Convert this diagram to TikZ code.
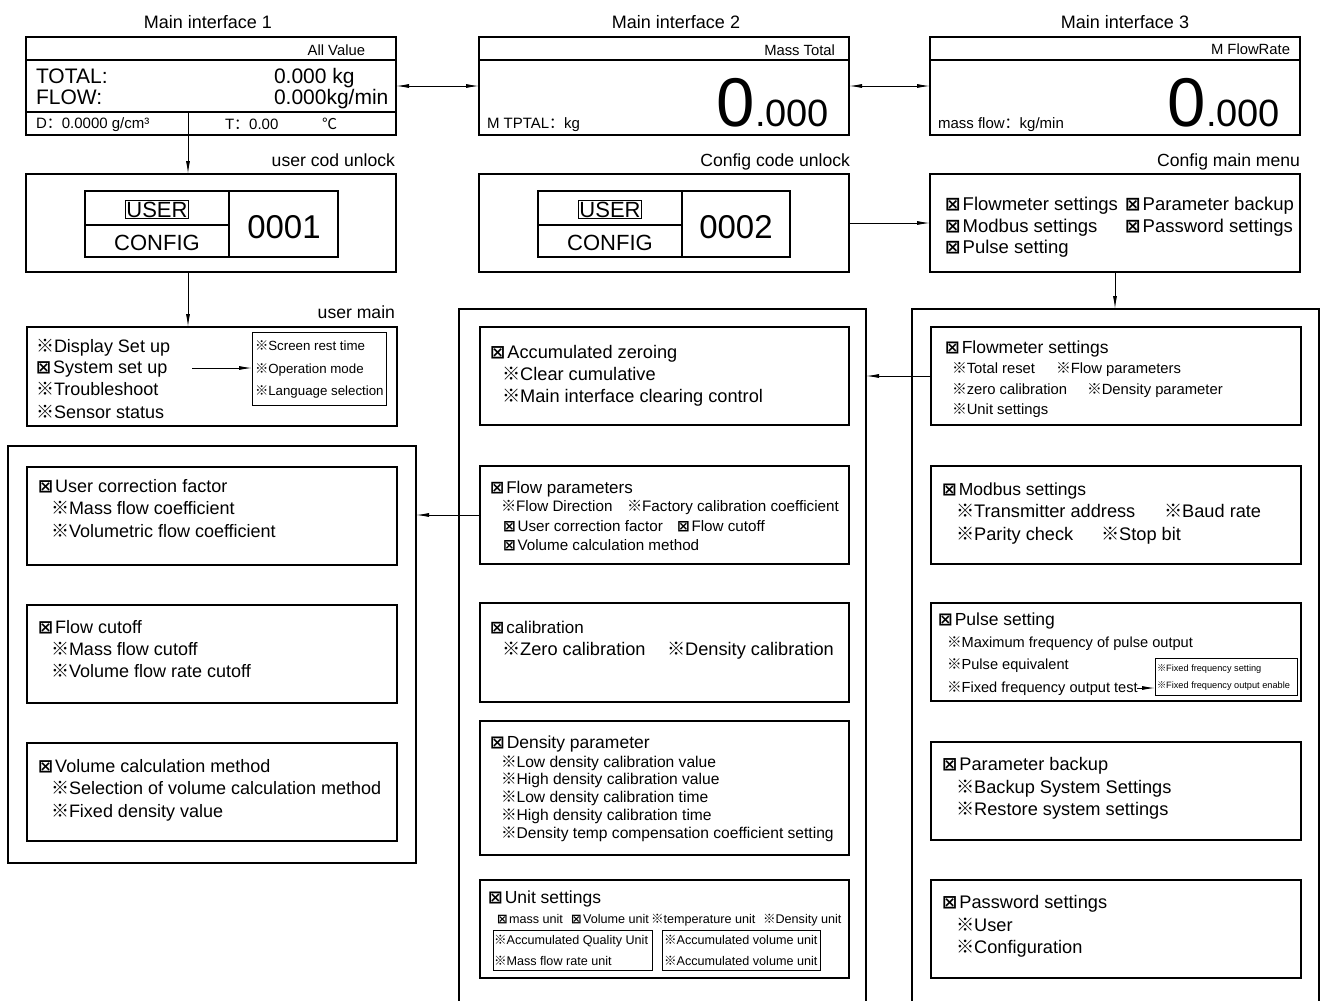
\documentclass[tikz,border=0pt]{standalone}
\usepackage{fontspec}
\setmainfont{Liberation Sans}
\newfontfamily\cjkf{Noto Sans CJK SC}
\newfontfamily\symf{DejaVu Sans}
\usetikzlibrary{arrows.meta}
\newcommand\fs[1]{\fontsize{#1}{#1}\selectfont}
\newcommand\bx{{\symf\bfseries ⊠}\kern0.12em}
\newcommand\rmk{{\cjkf ※}}
\newcommand\fcol{{\cjkf ：}}
\newcommand\degc{{\cjkf ℃}}
\begin{document}
\begin{tikzpicture}[x=1pt,y=-1pt,
  >={Latex[length=13pt,width=4pt]},
  box/.style={draw, line width=1.6pt, anchor=north west, inner sep=0pt, outer sep=0pt},
  sbox/.style={draw, line width=0.9pt, anchor=north west, inner sep=0pt, outer sep=0pt},
  tx/.style={anchor=base west, inner sep=0pt, outer sep=0pt},
  tr/.style={anchor=base east, inner sep=0pt, outer sep=0pt},
  tc/.style={anchor=base, inner sep=0pt, outer sep=0pt},
  conn/.style={line width=0.9pt},
  ln/.style={line width=1.4pt}]
\useasboundingbox (0,0) rectangle (1320,1001);
\clip (0,0) rectangle (1320,1001);
\fill[white] (0,0) rectangle (1320,1001);

% ---------- titles
\node[tc, font=\fs{18}] (ttl1) at (208,28) {Main interface 1};
\node[tc, font=\fs{18}] (ttl2) at (676,28) {Main interface 2};
\node[tc, font=\fs{18}] (ttl3) at (1125,28) {Main interface 3};

% ---------- main interface 1
\node[box, minimum width=370pt, minimum height=98pt] (mi1) at (26,37) {};
\draw[ln] (26,60) -- (396,60);
\draw[ln] (26,112) -- (396,112);
\coordinate (d1) at (188,112);
\node[tr, font=\fs{14.8}] (av) at (365,55) {All Value};
\node[tx, font=\fs{21}] (tot) at (36,83) {TOTAL:};
\node[tx, font=\fs{21}] (flw) at (36,104) {FLOW:};
\node[tx, font=\fs{21}] (totv) at (274,83) {0.000 kg};
\node[tx, font=\fs{21}] (flwv) at (274,104) {0.000kg/min};
\node[tx, font=\fs{15}] (dens) at (36,128) {D\fcol 0.0000 g/cm³};
\node[tx, font=\fs{15}] (temp) at (225,129) {T\fcol 0.00};
\node[tx, font=\fs{15}] (degc) at (322,129) {\degc};

% ---------- main interface 2
\node[box, minimum width=370pt, minimum height=98pt] (mi2) at (479,37) {};
\draw[ln] (479,60) -- (849,60);
\node[tr, font=\fs{14.8}] (mt) at (835,55) {Mass Total};
\node[tx, font=\fs{15}] (mtu) at (487,128) {M TPTAL\fcol kg};
\node[tr] (mtv) at (829,126) {{\fs{69}0}{\fs{38}.000}};

% ---------- main interface 3
\node[box, minimum width=370pt, minimum height=98pt] (mi3) at (930,37) {};
\draw[ln] (930,60) -- (1300,60);
\node[tr, font=\fs{14.8}] (mf) at (1290,54) {M FlowRate};
\node[tx, font=\fs{15}] (mfu) at (938,128) {mass flow\fcol kg/min};
\node[tr] (mfv) at (1280,126) {{\fs{69}0}{\fs{38}.000}};

\draw[conn,<->] (mi1.east) -- (mi2.west);
\draw[conn,<->] (mi2.east) -- (mi3.west);

% ---------- labels
\node[tr, font=\fs{17.6}] (lb1) at (395,166) {user cod unlock};
\node[tr, font=\fs{17.6}] (lb2) at (850,166) {Config code unlock};
\node[tr, font=\fs{17.6}] (lb3) at (1300,166) {Config main menu};

% ---------- unlock 1
\node[box, minimum width=370pt, minimum height=98pt] (uu1) at (26,174) {};
\node[box, line width=1.4pt, minimum width=253pt, minimum height=66pt] (tb1) at (85,191) {};
\draw[ln] (229,191) -- (229,257);
\draw[ln] (85,225) -- (229,225);
\node[draw, line width=0.7pt, inner sep=1.2pt, anchor=base, font=\fs{22}] (us1) at (157,217) {USER};
\node[tc, font=\fs{22}] (cf1) at (157,250) {CONFIG};
\node[tc, font=\fs{33}] (cd1) at (284,238) {0001};

% ---------- unlock 2
\node[box, minimum width=370pt, minimum height=98pt] (uu2) at (479,174) {};
\node[box, line width=1.4pt, minimum width=252pt, minimum height=66pt] (tb2) at (538,191) {};
\draw[ln] (682,191) -- (682,257);
\draw[ln] (538,225) -- (682,225);
\node[draw, line width=0.7pt, inner sep=1.2pt, anchor=base, font=\fs{22}] (us2) at (610,217) {USER};
\node[tc, font=\fs{22}] (cf2) at (610,250) {CONFIG};
\node[tc, font=\fs{33}] (cd2) at (736,238) {0002};

% ---------- config main menu
\node[box, minimum width=370pt, minimum height=98pt] (cmm) at (930,174) {};
\node[tx, font=\fs{18.5}] (cm1) at (945,210) {\bx Flowmeter settings};
\node[tx, font=\fs{18.5}] (cm2) at (1125,210) {\bx Parameter backup};
\node[tx, font=\fs{18.5}] (cm3) at (945,232) {\bx Modbus settings};
\node[tx, font=\fs{18.5}] (cm4) at (1125,232) {\bx Password settings};
\node[tx, font=\fs{18.5}] (cm5) at (945,253) {\bx Pulse setting};

\draw[conn,->] (d1) -- (d1 |- uu1.north);
\draw[conn,->] (uu2.east) -- (cmm.west);

% ---------- user main
\node[tr, font=\fs{17.6}] (lb4) at (395,318) {user main};
\node[box, minimum width=370pt, minimum height=99pt] (um) at (27,327) {};
\node[tx, font=\fs{18}] (um1) at (36,352) {\rmk Display Set up};
\node[tx, font=\fs{18}] (um2) at (36,373) {\bx System set up};
\node[tx, font=\fs{18}] (um3) at (36,395) {\rmk Troubleshoot};
\node[tx, font=\fs{18}] (um4) at (36,418) {\rmk Sensor status};
\node[sbox, minimum width=134pt, minimum height=73pt] (ubx) at (252,332) {};
\node[tx, font=\fs{13.3}] (ub1) at (255,350) {\rmk Screen rest time};
\node[tx, font=\fs{13.3}] (ub2) at (255,373) {\rmk Operation mode};
\node[tx, font=\fs{13.3}] (ub3) at (255,395) {\rmk Language selection};
\coordinate (c1) at (192,368);
\draw[conn,->] (c1) -- (c1 -| ubx.west);
\draw[conn,->] (uu1.south -| d1) -- (um.north -| d1);

% ---------- left panel
\node[box, minimum width=408pt, minimum height=417pt] (lp) at (8,446) {};
\node[box, minimum width=370pt, minimum height=98pt] (lb_a) at (27,467) {};
\node[tx, font=\fs{18}] (la1) at (38,492) {\bx User correction factor};
\node[tx, font=\fs{18}] (la2) at (51,514) {\rmk Mass flow coefficient};
\node[tx, font=\fs{18}] (la3) at (51,537) {\rmk Volumetric flow coefficient};
\node[box, minimum width=370pt, minimum height=98pt] (lb_b) at (27,605) {};
\node[tx, font=\fs{18}] (lb1t) at (38,633) {\bx Flow cutoff};
\node[tx, font=\fs{18}] (lb2t) at (51,655) {\rmk Mass flow cutoff};
\node[tx, font=\fs{18}] (lb3t) at (51,677) {\rmk Volume flow rate cutoff};
\node[box, minimum width=370pt, minimum height=98pt] (lb_c) at (27,743) {};
\node[tx, font=\fs{18}] (lc1) at (38,772) {\bx Volume calculation method};
\node[tx, font=\fs{18}] (lc2) at (51,794) {\rmk Selection of volume calculation method};
\node[tx, font=\fs{18}] (lc3) at (51,817) {\rmk Fixed density value};

% ---------- middle panel
\node[box, minimum width=407pt, minimum height=710pt] (mp) at (459,309) {};
\node[box, minimum width=369pt, minimum height=98pt] (m_a) at (480,327) {};
\node[tx, font=\fs{18.2}] (ma1) at (490,358) {\bx Accumulated zeroing};
\node[tx, font=\fs{18.2}] (ma2) at (502,380) {\rmk Clear cumulative};
\node[tx, font=\fs{18.2}] (ma3) at (502,402) {\rmk Main interface clearing control};
\node[box, minimum width=369pt, minimum height=98pt] (m_b) at (480,466) {};
\node[tx, font=\fs{17}] (mb1) at (490,493) {\bx Flow parameters};
\node[tx, font=\fs{15.2}] (mb2) at (501,511) {\rmk Flow Direction};
\node[tx, font=\fs{15.2}] (mb3) at (627,511) {\rmk Factory calibration coefficient};
\node[tx, font=\fs{15.2}] (mb4) at (503,531) {\bx User correction factor};
\node[tx, font=\fs{15.2}] (mb5) at (677,531) {\bx Flow cutoff};
\node[tx, font=\fs{15.2}] (mb6) at (503,550) {\bx Volume calculation method};
\node[box, minimum width=369pt, minimum height=99pt] (m_c) at (480,603) {};
\node[tx, font=\fs{17}] (mc1) at (490,633) {\bx calibration};
\node[tx, font=\fs{18.2}] (mc2) at (502,655) {\rmk Zero calibration};
\node[tx, font=\fs{18.2}] (mc3) at (667,655) {\rmk Density calibration};
\node[box, minimum width=369pt, minimum height=134pt] (m_d) at (480,721) {};
\node[tx, font=\fs{17.5}] (md1) at (490,748) {\bx Density parameter};
\node[tx, font=\fs{15.6}] (md2) at (501,767) {\rmk Low density calibration value};
\node[tx, font=\fs{15.6}] (md3) at (501,784) {\rmk High density calibration value};
\node[tx, font=\fs{15.6}] (md4) at (501,802) {\rmk Low density calibration time};
\node[tx, font=\fs{15.6}] (md5) at (501,820) {\rmk High density calibration time};
\node[tx, font=\fs{15.6}] (md6) at (501,838) {\rmk Density temp compensation coefficient setting};
\node[box, minimum width=369pt, minimum height=98pt] (m_e) at (480,880) {};
\node[tx, font=\fs{17.5}] (me1) at (488,903) {\bx Unit settings};
\node[tx, font=\fs{12.6}] (me2) at (497,923) {\bx mass unit};
\node[tx, font=\fs{12.6}] (me3) at (571,923) {\bx Volume unit};
\node[tx, font=\fs{12.6}] (me4) at (651,923) {\rmk temperature unit};
\node[tx, font=\fs{12.6}] (me5) at (763,923) {\rmk Density unit};
\node[sbox, minimum width=159pt, minimum height=40pt] (ue1) at (493,930) {};
\node[sbox, minimum width=158pt, minimum height=40pt] (ue2) at (662,930) {};
\node[tx, font=\fs{12.6}] (ue1a) at (494,944) {\rmk Accumulated Quality Unit};
\node[tx, font=\fs{12.6}] (ue1b) at (494,965) {\rmk Mass flow rate unit};
\node[tx, font=\fs{12.6}] (ue2a) at (664,944) {\rmk Accumulated volume unit};
\node[tx, font=\fs{12.6}] (ue2b) at (664,965) {\rmk Accumulated volume unit};

% ---------- right panel
\node[box, minimum width=407pt, minimum height=710pt] (rp) at (912,309) {};
\node[box, minimum width=370pt, minimum height=98pt] (r_a) at (931,327) {};
\node[tx, font=\fs{17.5}] (ra1) at (945,353) {\bx Flowmeter settings};
\node[tx, font=\fs{14.8}] (ra2) at (952,373) {\rmk Total reset};
\node[tx, font=\fs{14.8}] (ra3) at (1056,373) {\rmk Flow parameters};
\node[tx, font=\fs{14.8}] (ra4) at (952,394) {\rmk zero calibration};
\node[tx, font=\fs{14.8}] (ra5) at (1087,394) {\rmk Density parameter};
\node[tx, font=\fs{14.8}] (ra6) at (952,414) {\rmk Unit settings};
\node[box, minimum width=370pt, minimum height=98pt] (r_b) at (931,466) {};
\node[tx, font=\fs{17.5}] (rb1) at (942,495) {\bx Modbus settings};
\node[tx, font=\fs{18.2}] (rb2) at (956,517) {\rmk Transmitter address};
\node[tx, font=\fs{18.2}] (rb3) at (1164,517) {\rmk Baud rate};
\node[tx, font=\fs{18.2}] (rb4) at (956,540) {\rmk Parity check};
\node[tx, font=\fs{18.2}] (rb5) at (1101,540) {\rmk Stop bit};
\node[box, minimum width=370pt, minimum height=98pt] (r_c) at (931,603) {};
\node[tx, font=\fs{17.5}] (rc1) at (938,625) {\bx Pulse setting};
\node[tx, font=\fs{14.6}] (rc2) at (947,647) {\rmk Maximum frequency of pulse output};
\node[tx, font=\fs{14.6}] (rc3) at (947,669) {\rmk Pulse equivalent};
\node[tx, font=\fs{14.6}] (rc4) at (947,692) {\rmk Fixed frequency output test};
\node[sbox, minimum width=142pt, minimum height=37pt] (pib) at (1155,658) {};
\node[tx, font=\fs{9.2}] (pi1) at (1157,671) {\rmk Fixed frequency setting};
\node[tx, font=\fs{9.2}] (pi2) at (1157,688) {\rmk Fixed frequency output enable};
\coordinate (c2) at (1137,688);
\draw[conn,->] (c2) -- (c2 -| pib.west);
\node[box, minimum width=370pt, minimum height=98pt] (r_d) at (931,742) {};
\node[tx, font=\fs{18.2}] (rd1) at (942,770) {\bx Parameter backup};
\node[tx, font=\fs{18.2}] (rd2) at (956,793) {\rmk Backup System Settings};
\node[tx, font=\fs{18.2}] (rd3) at (956,815) {\rmk Restore system settings};
\node[box, minimum width=370pt, minimum height=98pt] (r_e) at (931,880) {};
\node[tx, font=\fs{18.2}] (re1) at (942,908) {\bx Password settings};
\node[tx, font=\fs{18.2}] (re2) at (956,931) {\rmk User};
\node[tx, font=\fs{18.2}] (re3) at (956,953) {\rmk Configuration};

% ---------- connectors between panels
\draw[conn,->] (cmm.south) -- (cmm.south |- rp.north);
\draw[conn,->] (r_a.west) -- (r_a.west -| mp.east);
\draw[conn,->] (m_b.west) -- (m_b.west -| lp.east);
\end{tikzpicture}
\end{document}
